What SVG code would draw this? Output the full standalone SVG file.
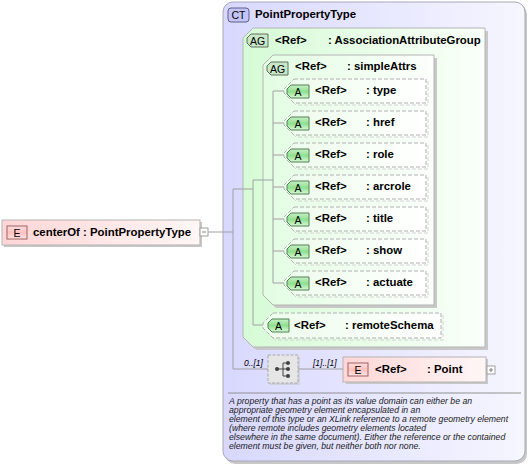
<svg xmlns="http://www.w3.org/2000/svg" width="530" height="466" viewBox="0 0 530 466">
<defs>
<linearGradient id="gCT" x1="0" y1="0" x2="1" y2="0"><stop offset="0" stop-color="#d8d8ff"/><stop offset="1" stop-color="#f6f6ff"/></linearGradient>
<linearGradient id="gAG" x1="0" y1="0" x2="1" y2="0"><stop offset="0" stop-color="#d6fbd6"/><stop offset="1" stop-color="#fafffa"/></linearGradient>
<linearGradient id="gAG2" x1="0" y1="0" x2="1" y2="0"><stop offset="0" stop-color="#e2fde2"/><stop offset="1" stop-color="#fcfffc"/></linearGradient>
<linearGradient id="gA" x1="0" y1="0" x2="1" y2="0"><stop offset="0" stop-color="#ecfcec"/><stop offset="1" stop-color="#ffffff"/></linearGradient>
<linearGradient id="gE" x1="0" y1="0" x2="1" y2="0"><stop offset="0" stop-color="#ffd6d6"/><stop offset="1" stop-color="#fff6f6"/></linearGradient>
<linearGradient id="gAb" x1="0" y1="0" x2="0" y2="1"><stop offset="0" stop-color="#c8f0c8"/><stop offset="0.5" stop-color="#90e090"/><stop offset="1" stop-color="#d8f8d8"/></linearGradient>
<linearGradient id="gEb" x1="0" y1="0" x2="0" y2="1"><stop offset="0" stop-color="#ffe0e0"/><stop offset="0.5" stop-color="#ffc0c0"/><stop offset="1" stop-color="#ffe4e4"/></linearGradient>
</defs>
<style>
text{font-family:"Liberation Sans",Arial,sans-serif;fill:#000}
.b{font-weight:bold;font-size:11.4px}
.bl{font-size:10.5px}
.desc{font-style:italic;font-size:8.7px;fill:#222}
.card{font-style:italic;font-size:8.5px}
.sh{fill:#c8c8c8;stroke:none}
.shd{fill:none;stroke:#d4d4d4;stroke-dasharray:4,2}
.abox{fill:url(#gA);stroke:#b0b0b0;stroke-dasharray:4,2}
.abadge{fill:url(#gAb);stroke:#508050}
.agbadge{fill:#c8e6c8;stroke:#607060}
.ebadge{fill:url(#gEb);stroke:#a06060}
.ebox{fill:url(#gE);stroke:#b4b4b4}
.ln{fill:none;stroke:#a0a0a0;stroke-width:1}
.pm{fill:#fff;stroke:#a0a0a0}
</style>

<g id="PointPropertyType">
<rect x="225" y="4" width="302" height="460" rx="10" class="sh"/>
<rect x="223" y="2" width="302" height="459" rx="10" fill="url(#gCT)" stroke="#a8a8b8"/>
<rect x="228" y="8" width="21" height="14" rx="3" fill="#c4c4f8" stroke="#606088"/>
<text x="238.5" y="19" text-anchor="middle" style="font-size:10.5px">CT</text>
<text x="255" y="18" class="b">PointPropertyType</text>
<line x1="228" y1="393" x2="521" y2="393" stroke="#909090"/>
<text class="desc">
<tspan x="229" y="403.5">A property that has a point as its value domain can either be an</tspan>
<tspan x="229" y="412.5">appropriate geometry element encapsulated in an</tspan>
<tspan x="229" y="421.5">element of this type or an XLink reference to a remote geometry element</tspan>
<tspan x="229" y="430.5">(where remote includes geometry elements located</tspan>
<tspan x="229" y="440">elsewhere in the same document). Either the reference or the contained</tspan>
<tspan x="229" y="449">element must be given, but neither both nor none.</tspan>
</text>
</g>

<g id="AssociationAttributeGroup">
<path d="M256,31 H488 V350 H256 L246,340 V41 Z" class="sh"/>
<path d="M253,28 H485 V347 H253 L243,337 V38 Z" fill="url(#gAG)" stroke="#b4b4b4"/>
<path d="M251,34 H268 V47 H251 L247,43 V38 Z" class="agbadge"/>
<text x="257.5" y="44.5" text-anchor="middle" class="bl">AG</text>
<text x="275" y="44" class="b">&lt;Ref&gt;</text>
<text x="328" y="44" class="b">: AssociationAttributeGroup</text>
</g>

<g id="simpleAttrs">
<path d="M276,58 H437 V308 H276 L266,298 V68 Z" class="sh"/>
<path d="M273,55 H434 V305 H273 L263,295 V65 Z" fill="url(#gAG2)" stroke="#b4b4b4"/>
<path d="M271,62 H288 V75 H271 L267,71 V66 Z" class="agbadge"/>
<text x="277.5" y="72.5" text-anchor="middle" class="bl">AG</text>
<text x="295" y="70" class="b">&lt;Ref&gt;</text>
<text x="347" y="70" class="b">: simpleAttrs</text>
</g>

<g id="type">
<path d="M296,81 H428 V105 H296 L286,95 V91 Z" class="shd"/>
<path d="M294,79 H426 V103 H294 L284,93 V89 Z" class="abox"/>
<path d="M291,85 H309 V98 H291 L287,94 V89 Z" class="abadge"/>
<text x="298" y="95.5" text-anchor="middle" class="bl">A</text>
<text x="315" y="94" class="b">&lt;Ref&gt;</text>
<text x="366" y="94" class="b">: type</text>
</g>
<g id="href">
<path d="M296,113 H428 V137 H296 L286,127 V123 Z" class="shd"/>
<path d="M294,111 H426 V135 H294 L284,125 V121 Z" class="abox"/>
<path d="M291,117 H309 V130 H291 L287,126 V121 Z" class="abadge"/>
<text x="298" y="127.5" text-anchor="middle" class="bl">A</text>
<text x="315" y="126" class="b">&lt;Ref&gt;</text>
<text x="366" y="126" class="b">: href</text>
</g>
<g id="role">
<path d="M296,145 H428 V169 H296 L286,159 V155 Z" class="shd"/>
<path d="M294,143 H426 V167 H294 L284,157 V153 Z" class="abox"/>
<path d="M291,149 H309 V162 H291 L287,158 V153 Z" class="abadge"/>
<text x="298" y="159.5" text-anchor="middle" class="bl">A</text>
<text x="315" y="158" class="b">&lt;Ref&gt;</text>
<text x="366" y="158" class="b">: role</text>
</g>
<g id="arcrole">
<path d="M296,177 H428 V201 H296 L286,191 V187 Z" class="shd"/>
<path d="M294,175 H426 V199 H294 L284,189 V185 Z" class="abox"/>
<path d="M291,181 H309 V194 H291 L287,190 V185 Z" class="abadge"/>
<text x="298" y="191.5" text-anchor="middle" class="bl">A</text>
<text x="315" y="190" class="b">&lt;Ref&gt;</text>
<text x="366" y="190" class="b">: arcrole</text>
</g>
<g id="title">
<path d="M296,209 H428 V233 H296 L286,223 V219 Z" class="shd"/>
<path d="M294,207 H426 V231 H294 L284,221 V217 Z" class="abox"/>
<path d="M291,213 H309 V226 H291 L287,222 V217 Z" class="abadge"/>
<text x="298" y="223.5" text-anchor="middle" class="bl">A</text>
<text x="315" y="222" class="b">&lt;Ref&gt;</text>
<text x="366" y="222" class="b">: title</text>
</g>
<g id="show">
<path d="M296,241 H428 V265 H296 L286,255 V251 Z" class="shd"/>
<path d="M294,239 H426 V263 H294 L284,253 V249 Z" class="abox"/>
<path d="M291,245 H309 V258 H291 L287,254 V249 Z" class="abadge"/>
<text x="298" y="255.5" text-anchor="middle" class="bl">A</text>
<text x="315" y="254" class="b">&lt;Ref&gt;</text>
<text x="366" y="254" class="b">: show</text>
</g>
<g id="actuate">
<path d="M296,273 H428 V297 H296 L286,287 V283 Z" class="shd"/>
<path d="M294,271 H426 V295 H294 L284,285 V281 Z" class="abox"/>
<path d="M291,277 H309 V290 H291 L287,286 V281 Z" class="abadge"/>
<text x="298" y="287.5" text-anchor="middle" class="bl">A</text>
<text x="315" y="286" class="b">&lt;Ref&gt;</text>
<text x="366" y="286" class="b">: actuate</text>
</g>
<g id="remoteSchema">
<path d="M275,315 H443 V340 H275 L265,330 V325 Z" class="shd"/>
<path d="M273,313 H441 V338 H273 L263,328 V323 Z" class="abox"/>
<path d="M272,319 H289 V332 H272 L268,328 V323 Z" class="abadge"/>
<text x="278.5" y="329.5" text-anchor="middle" class="bl">A</text>
<text x="294" y="329" class="b">&lt;Ref&gt;</text>
<text x="345" y="329" class="b">: remoteSchema</text>
</g>

<g id="centerOf">
<rect x="4" y="222" width="198" height="25" class="sh"/>
<rect x="2" y="220" width="198" height="25" class="ebox"/>
<rect x="7" y="226" width="20" height="13" class="ebadge"/>
<text x="17" y="236.5" text-anchor="middle" class="bl">E</text>
<text x="33" y="236" class="b">centerOf : PointPropertyType</text>
<rect x="200" y="228" width="8" height="8" class="pm"/>
<line x1="202" y1="232" x2="206" y2="232" stroke="#808080"/>
</g>

<g id="sequence">
<rect x="270" y="357" width="30" height="28" class="sh" opacity="0.6"/>
<rect x="268" y="355" width="30" height="28" fill="#e6e6e6" stroke="#a8a8a8" stroke-dasharray="3,1.5"/>
<circle cx="277" cy="369" r="2" fill="#404040"/>
<line x1="277" y1="369" x2="283" y2="369" stroke="#404040"/>
<line x1="283" y1="363" x2="283" y2="376" stroke="#404040"/>
<line x1="283" y1="363" x2="288" y2="363" stroke="#404040"/>
<line x1="283" y1="369" x2="288" y2="369" stroke="#404040"/>
<line x1="283" y1="376" x2="288" y2="376" stroke="#404040"/>
<circle cx="288" cy="363" r="2" fill="#404040"/>
<circle cx="288" cy="369" r="2" fill="#404040"/>
<circle cx="288" cy="376" r="2" fill="#404040"/>
</g>

<g id="Point">
<rect x="346" y="359" width="142" height="25" class="sh"/>
<rect x="343" y="357" width="143" height="25" class="ebox"/>
<rect x="348" y="363" width="20" height="13" class="ebadge"/>
<text x="358" y="373.5" text-anchor="middle" class="bl">E</text>
<text x="375" y="373" class="b">&lt;Ref&gt;</text>
<text x="427" y="373" class="b">: Point</text>
<rect x="487" y="366" width="8" height="8" class="pm"/>
<line x1="489" y1="370" x2="493" y2="370" stroke="#808080"/>
<line x1="491" y1="368" x2="491" y2="372" stroke="#808080"/>
</g>

<g id="connectors">
<path class="ln" d="M208,232 H233 M233,189 V369 H268 M298,369 H343"/>
<path class="ln" d="M233,189 H253 M253,180 V325 H263 M253,180 H273"/>
<path class="ln" d="M273,91 V283 M273,91 H284 M273,123 H284 M273,155 H284 M273,187 H284 M273,219 H284 M273,251 H284 M273,283 H284"/>
<text x="244" y="366" class="card">0..[1]</text>
<text x="313" y="366" class="card">[1]..[1]</text>
</g>
</svg>
